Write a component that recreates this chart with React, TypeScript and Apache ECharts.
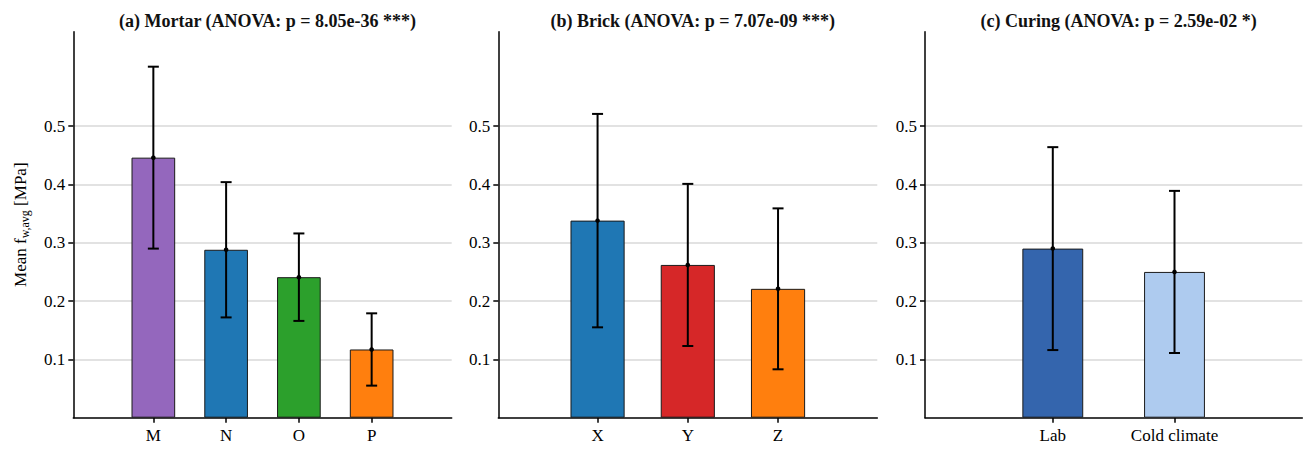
import React, { useEffect, useRef } from "react";
import * as echarts from "echarts";

const mortarCats = ["M", "N", "O", "P"];
const mortarMeans = [0.446, 0.288, 0.241, 0.117];
const mortarErr = [0.156, 0.116, 0.075, 0.062];
const mortarColors = ["#9467bd", "#1f77b4", "#2ca02c", "#ff7f0e"];

const brickCats = ["X", "Y", "Z"];
const brickMeans = [0.338, 0.262, 0.221];
const brickErr = [0.183, 0.139, 0.138];
const brickColors = ["#1f77b4", "#d62728", "#ff7f0e"];

const curingCats = ["Lab", "Cold climate"];
const curingMeans = [0.29, 0.25];
const curingErr = [0.174, 0.139];
const curingColors = ["#3465ad", "#aecbef"];

const titles = [
  "(a) Mortar (ANOVA: p = 8.05e-36 ***)",
  "(b) Brick (ANOVA: p = 7.07e-09 ***)",
  "(c) Curing (ANOVA: p = 2.59e-02 *)",
];
const yTicks = [0.1, 0.2, 0.3, 0.4, 0.5];
const yMax = 0.662;

const FONT = "Liberation Serif";
const W = 1309;

const panels = [
  { cats: mortarCats, means: mortarMeans, err: mortarErr, colors: mortarColors, left: 73.3, right: 451.7, pad: 1.1, barW: "60%" },
  { cats: brickCats, means: brickMeans, err: brickErr, colors: brickColors, left: 498.3, right: 877.3, pad: 1.1, barW: "60%" },
  { cats: curingCats, means: curingMeans, err: curingErr, colors: curingColors, left: 925, right: 1302.3, pad: 1.05, barW: "50%" },
];

export default function App() {
  const ref = useRef<HTMLDivElement>(null);
  useEffect(() => {
    if (!ref.current) return;
    const chart = echarts.init(ref.current, undefined, { renderer: "svg" });
    const grid: any[] = [];
    const xAxis: any[] = [];
    const yAxis: any[] = [];
    const series: any[] = [];
    const title: any[] = [];
    panels.forEach((p, i) => {
      grid.push({ left: p.left, right: W - p.right, top: 31.7, bottom: 450 - 417.7, containLabel: false });
      title.push({
        text: titles[i],
        left: (p.left + p.right) / 2,
        top: 7,
        textAlign: "center",
        textStyle: { fontFamily: FONT, fontWeight: "bold", fontSize: 18, color: "#111" },
      });
      const idx = p.cats.map((_, k) => k);
      xAxis.push({
        type: "value",
        gridIndex: i,
        min: -p.pad,
        max: p.cats.length - 1 + p.pad,
        axisLine: { show: true, onZero: false, lineStyle: { color: "#000", width: 1.5 } },
        axisTick: { show: true, customValues: idx, length: 5, lineStyle: { color: "#000", width: 1.5 } },
        axisLabel: {
          customValues: idx,
          formatter: (v: number) => p.cats[Math.round(v)] ?? "",
          fontFamily: FONT,
          fontSize: 17,
          color: "#000",
          margin: 9,
        },
        splitLine: { show: false },
      });
      yAxis.push({
        type: "value",
        gridIndex: i,
        min: 0,
        max: yMax,
        name: i === 0 ? "{a|Mean f}{s|w,avg}{a| [MPa]}" : "",
        nameLocation: "middle",
        nameRotate: 90,
        nameGap: 42,
        nameTextStyle: {
          fontFamily: FONT,
          color: "#000",
          rich: {
            a: { fontFamily: FONT, fontSize: 17, color: "#000", lineHeight: 22, verticalAlign: "middle" },
            s: { fontFamily: FONT, fontSize: 12, color: "#000", lineHeight: 22, verticalAlign: "bottom", padding: [8, 0, 0, 0] },
          },
        },
        axisLine: { show: true, onZero: false, lineStyle: { color: "#000", width: 1.5 } },
        axisTick: { show: true, customValues: yTicks, length: 5, lineStyle: { color: "#000", width: 1.5 } },
        axisLabel: {
          customValues: yTicks,
          formatter: (v: number) => v.toFixed(1),
          fontFamily: FONT,
          fontSize: 17,
          color: "#000",
          margin: 8,
        },
        splitLine: { show: true, lineStyle: { color: "#d9d9d9", width: 1.5 } },
      });
      series.push({
        type: "bar",
        xAxisIndex: i,
        yAxisIndex: i,
        barWidth: p.barW,
        data: p.means.map((m, k) => ({
          value: [k, m],
          itemStyle: { color: p.colors[k], borderColor: "#1a1a1a", borderWidth: 1 },
        })),
        z: 2,
      });
      series.push({
        type: "custom",
        xAxisIndex: i,
        yAxisIndex: i,
        z: 5,
        encode: { x: 0, y: [1, 2, 3] },
        data: p.means.map((m, k) => [k, m, m - p.err[k], m + p.err[k]]),
        renderItem: (params: any, api: any) => {
          const x = api.value(0);
          const pm = api.coord([x, api.value(1)]);
          const plo = api.coord([x, api.value(2)]);
          const phi = api.coord([x, api.value(3)]);
          const cw = 5.5;
          const st = { stroke: "#000", lineWidth: 2 };
          return {
            type: "group",
            children: [
              { type: "line", shape: { x1: pm[0], y1: plo[1], x2: pm[0], y2: phi[1] }, style: st },
              { type: "line", shape: { x1: pm[0] - cw, y1: plo[1], x2: pm[0] + cw, y2: plo[1] }, style: st },
              { type: "line", shape: { x1: pm[0] - cw, y1: phi[1], x2: pm[0] + cw, y2: phi[1] }, style: st },
              { type: "circle", shape: { cx: pm[0], cy: pm[1], r: 2.3 }, style: { fill: "#000" } },
            ],
          };
        },
      });
    });
    chart.setOption({
      animation: false,
      backgroundColor: "#fff",
      title,
      grid,
      xAxis,
      yAxis,
      series,
    });
    return () => chart.dispose();
  }, []);
  return <div ref={ref} style={{ position: "absolute", left: 0, top: 0, width: W, height: 450 }} />;
}
